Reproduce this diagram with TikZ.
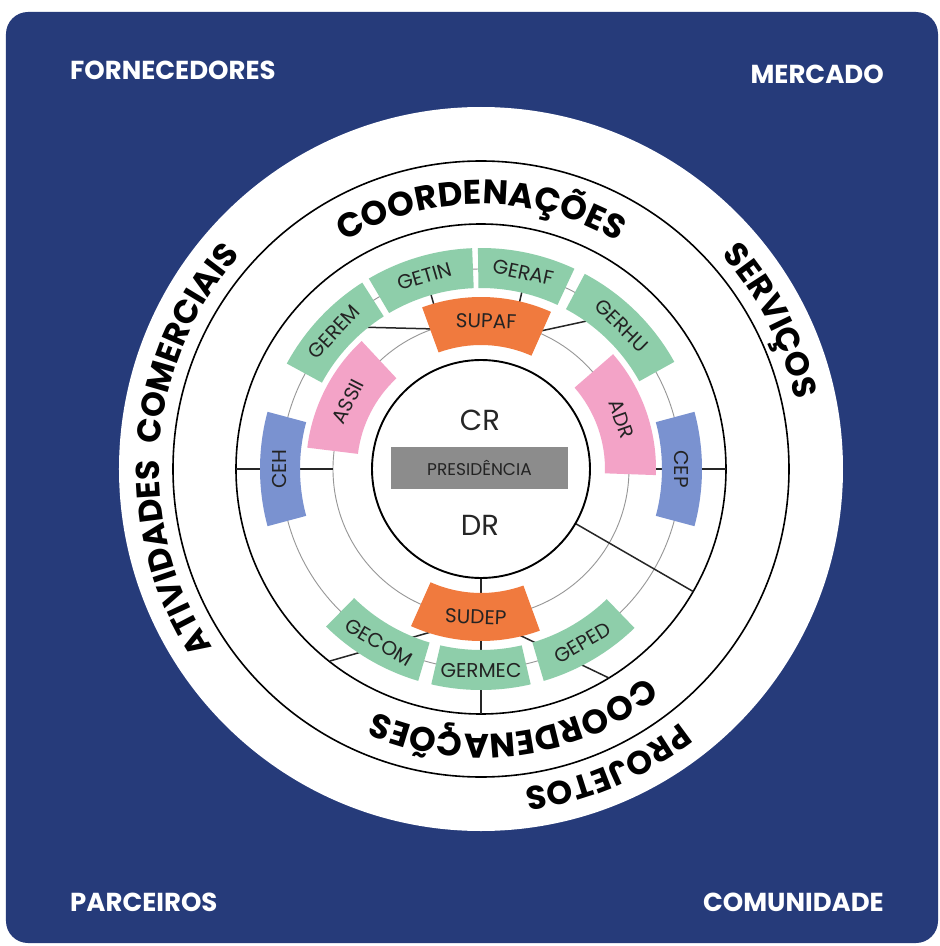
\documentclass[tikz,border=0pt]{standalone}
\usepackage{fontspec}
\setmainfont{Poppins}
\usetikzlibrary{decorations.text}
\definecolor{bgblue}{RGB}{38,59,122}
\definecolor{boxgreen}{RGB}{142,206,170}
\definecolor{boxorange}{RGB}{240,122,62}
\definecolor{boxpink}{RGB}{243,163,199}
\definecolor{boxblue}{RGB}{122,146,208}
\definecolor{presgrey}{RGB}{140,140,140}
\definecolor{thingrey}{RGB}{150,150,150}
\definecolor{labeltext}{RGB}{35,35,35}
\newcommand\bandfont{\fontsize{34}{34}\selectfont\bfseries}
\newcommand\outerfont{\fontsize{33}{33}\selectfont\bfseries}
\newcommand\annsec[5]{\fill[#1] (#2:#4) arc[start angle=#2,end angle=#3,radius=#4] -- (#3:#5) arc[start angle=#3,end angle=#2,radius=#5] -- cycle;}
\begin{document}
\begin{tikzpicture}[x=1pt,y=1pt,
  thickring/.style={draw=black, line width=1.6},
  thinring/.style={draw=thingrey, line width=0.9},
  link/.style={draw=black!85, line width=1.5},
  boxlabel/.style={text=labeltext, inner sep=0, font=\fontsize{20}{20}\selectfont},
  corner/.style={text=white, inner sep=0, font=\fontsize{26}{26}\selectfont\bfseries}]
\useasboundingbox (-481,-477) rectangle (459,469);
\fill[white] (-481,-477) rectangle (459,469);
\fill[bgblue, rounded corners=22pt] (-475,-474) rectangle (457,457);
\fill[white] (0,0) circle[radius=362];
% rings
\draw[thinring] (0,0) circle[radius=148];
\draw[thinring] (0,0) circle[radius=200];
\draw[thickring] (0,0) circle[radius=245];
\draw[thickring] (0,0) circle[radius=308];
% connector end points
\coordinate (ceh-in) at (180:148); \coordinate (ceh-out) at (180:245);
\coordinate (cep-in) at (0:172); \coordinate (cep-out) at (0:245);
\coordinate (vert-in) at (270:109); \coordinate (vert-out) at (270:245);
\coordinate (diag-in) at (-30:109); \coordinate (diag-out) at (-30:245);
\coordinate (supaf-l) at (-45,140); \coordinate (gerem-c) at (-125,142);
\coordinate (supaf-r) at (55,137); \coordinate (gerhu-c) at (115,150);
\coordinate (getin-a) at (106:165); \coordinate (getin-b) at (106:190);
\coordinate (geraf-a) at (77:165); \coordinate (geraf-b) at (77:190);
\coordinate (sudep-l) at (-43,-161); \coordinate (gecom-out) at (-151,-192);
\coordinate (sudep-r) at (32,-163); \coordinate (geped-out) at (128,-209);
\draw[link] (ceh-in) -- (ceh-out);
\draw[link] (cep-in) -- (cep-out);
\draw[link] (vert-in) -- (vert-out);
\draw[link] (diag-in) -- (diag-out);
\draw[link] (supaf-l) -- (gerem-c);
\draw[link] (supaf-r) -- (gerhu-c);
\draw[link] (getin-a) -- (getin-b);
\draw[link] (geraf-a) -- (geraf-b);
\draw[link] (sudep-l) -- (gecom-out);
\draw[link] (sudep-r) -- (geped-out);
% centre circle
\fill[white] (0,0) circle[radius=109];
\draw[black, line width=1.9] (0,0) circle[radius=109];
% sectors
\annsec{boxorange}{66}{110}{124}{172}
\annsec{boxorange}{246}{290}{124}{172}
\annsec{boxpink}{133}{173}{124}{175}
\annsec{boxpink}{-2}{41}{124}{175}
\annsec{boxblue}{165}{195}{181}{221}
\annsec{boxblue}{-15}{15}{181}{221}
\annsec{boxgreen}{122.5}{151.5}{181}{221}
\annsec{boxgreen}{92.3}{120.5}{181}{221}
\annsec{boxgreen}{65}{90.8}{181}{221}
\annsec{boxgreen}{29}{62}{181}{221}
\annsec{boxgreen}{225.5}{253.5}{181}{221}
\annsec{boxgreen}{257}{283}{181}{221}
\annsec{boxgreen}{286.5}{314}{181}{221}
% labels
\node[boxlabel, rotate=-2] (supaf) at (88:148) {SUPAF};
\node[boxlabel, rotate=-2] (sudep) at (268:148) {SUDEP};
\node[boxlabel, rotate=63] (assii) at (153:149) {ASSII};
\node[boxlabel, rotate=-70.5] (adr) at (19.5:149) {ADR};
\node[boxlabel, rotate=90] (ceh) at (180:201) {CEH};
\node[boxlabel, rotate=-90] (cep) at (0:201) {CEP};
\node[boxlabel, rotate=47] (gerem) at (137:201) {GEREM};
\node[boxlabel, rotate=16.4] (getin) at (106.4:201) {GETIN};
\node[boxlabel, rotate=-12.1] (geraf) at (77.9:201) {GERAF};
\node[boxlabel, rotate=-44.5] (gerhu) at (45.5:201) {GERHU};
\node[boxlabel, rotate=-30.5] (gecom) at (239.5:201) {GECOM};
\node[boxlabel] (germec) at (270:201) {GERMEC};
\node[boxlabel, rotate=30.25] (geped) at (300.25:201) {GEPED};
% centre
\node[text=black!85, inner sep=0, font=\fontsize{29}{29}\selectfont] (cr) at (-1,49) {CR};
\node[text=black!85, inner sep=0, font=\fontsize{29}{29}\selectfont] (dr) at (-1,-56) {DR};
\node[fill=presgrey, minimum width=177, minimum height=42, inner sep=0, text=labeltext, font=\fontsize{17}{17}\selectfont] (pres) at (-1.5,1) {PRESIDÊNCIA};
% corner labels
\node[corner, anchor=west] (forn) at (-411,399) {FORNECEDORES};
\node[corner, anchor=east] (merc) at (403,395) {MERCADO};
\node[corner, anchor=west] (parc) at (-411,-433) {PARCEIROS};
\node[corner, anchor=east] (comu) at (403,-433) {COMUNIDADE};
% arc texts
\path[decorate, decoration={text along path, text={|\bandfont|COORDENAÇÕES}, text align=center}] (130:265) arc[start angle=130, end angle=50, radius=265];
\path[decorate, decoration={text along path, text={|\bandfont|COORDENAÇÕES}, text align=center}] (-42.5:265) arc[start angle=-42.5, end angle=-122.5, radius=265];
\path[decorate, decoration={text along path, text={|\outerfont|ATIVIDADES}, text align=center}] (236:322) arc[start angle=236, end angle=156, radius=322];
\path[decorate, decoration={text along path, text={|\outerfont|COMERCIAIS}, text align=center}] (197:322) arc[start angle=197, end angle=117, radius=322];
\path[decorate, decoration={text along path, text={|\outerfont|SERVIÇOS}, text align=center}] (57:322) arc[start angle=57, end angle=-3, radius=322];
\path[decorate, decoration={text along path, text={|\outerfont|PROJETOS}, text align=center}] (-37:322) arc[start angle=-37, end angle=-97, radius=322];
\end{tikzpicture}
\end{document}
